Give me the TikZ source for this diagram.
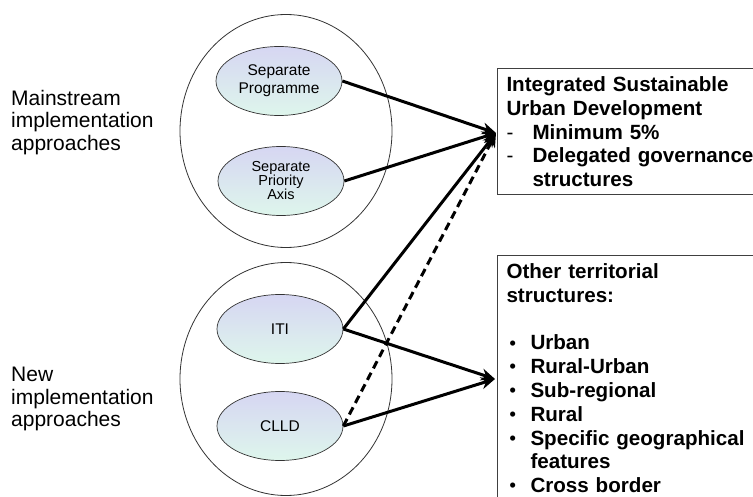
\documentclass[tikz,border=0pt]{standalone}
\usepackage{fontspec}
\setmainfont{Liberation Sans}
\usetikzlibrary{shapes.geometric,arrows.meta}

\definecolor{lilac}{RGB}{214,214,242}
\definecolor{mint}{RGB}{222,246,236}
\newcommand\dashit{\makebox[26pt][l]{\mdseries -}}
\newcommand\bulit{\makebox[24pt][l]{\hspace{3pt}\raisebox{0.8pt}{\fontsize{18}{18}\selectfont\textbullet}}}

\begin{document}
\begin{tikzpicture}[x=1pt,y=-1pt,
    ring/.style = {draw=black!80, line width=0.8pt, ellipse, minimum width=212pt, minimum height=233pt, inner sep=0pt},
    way/.style = {draw=black!80, line width=0.7pt, ellipse, minimum width=126pt, minimum height=69pt, inner sep=0pt,
                  top color=lilac, bottom color=mint, align=center, font=\fontsize{15.5}{18}\selectfont},
    side/.style = {anchor=north west, align=left, inner sep=0pt, font=\fontsize{21}{22.7}\selectfont},
    infobox/.style = {draw=black!75, line width=1pt, anchor=north west, align=left, text width=300pt,
                      inner xsep=9pt, inner ysep=8pt, font=\bfseries\fontsize{20.6}{23.8}\selectfont},
    link/.style = {line width=3pt, ->, >={Stealth[length=14pt,width=12pt]}}]
        \useasboundingbox (0,0) rectangle (753,497);
        \node[ring] (main) at (286,131) {};
        \node[ring] (new) at (286,379) {};
        \node[way] (prog) at (279,81) {Separate\\Programme};
        \node[way, font=\fontsize{14.5}{14}\selectfont] (axis) at (281,181) {Separate\\Priority\\Axis};
        \node[way] (iti) at (280,329) {ITI};
        \node[way] (clld) at (280,426) {CLLD};
        \node[side] (mainlab) at (11,89.7) {Mainstream\\implementation\\approaches};
        \node[side] (newlab) at (11,366.7) {New\\implementation\\approaches};
        \node[infobox] (isud) at (497,68) {Integrated Sustainable\\Urban Development\\
            \dashit Minimum 5\%\\\dashit Delegated governance\\\hspace*{26pt}structures};
        \node[infobox] (other) at (497,255) {Other territorial\\structures:\\[23.8pt]
            \bulit Urban\\\bulit Rural-Urban\\\bulit Sub-regional\\\bulit Rural\\
            \bulit Specific geographical\\\hspace*{24pt}features\\\bulit Cross border};
        \coordinate (tipa) at (496,133);
        \coordinate (tipb) at (495,379);
        \draw[link] (prog.east) -- (tipa);
        \draw[link] (axis.east) -- (tipa);
        \draw[link] (iti.east) -- (tipa);
        \draw[link, dash pattern=on 8pt off 5pt] (clld.east) -- (tipa);
        \draw[link] (iti.east) -- (tipb);
        \draw[link] (clld.east) -- (tipb);
\end{tikzpicture}
\end{document}
